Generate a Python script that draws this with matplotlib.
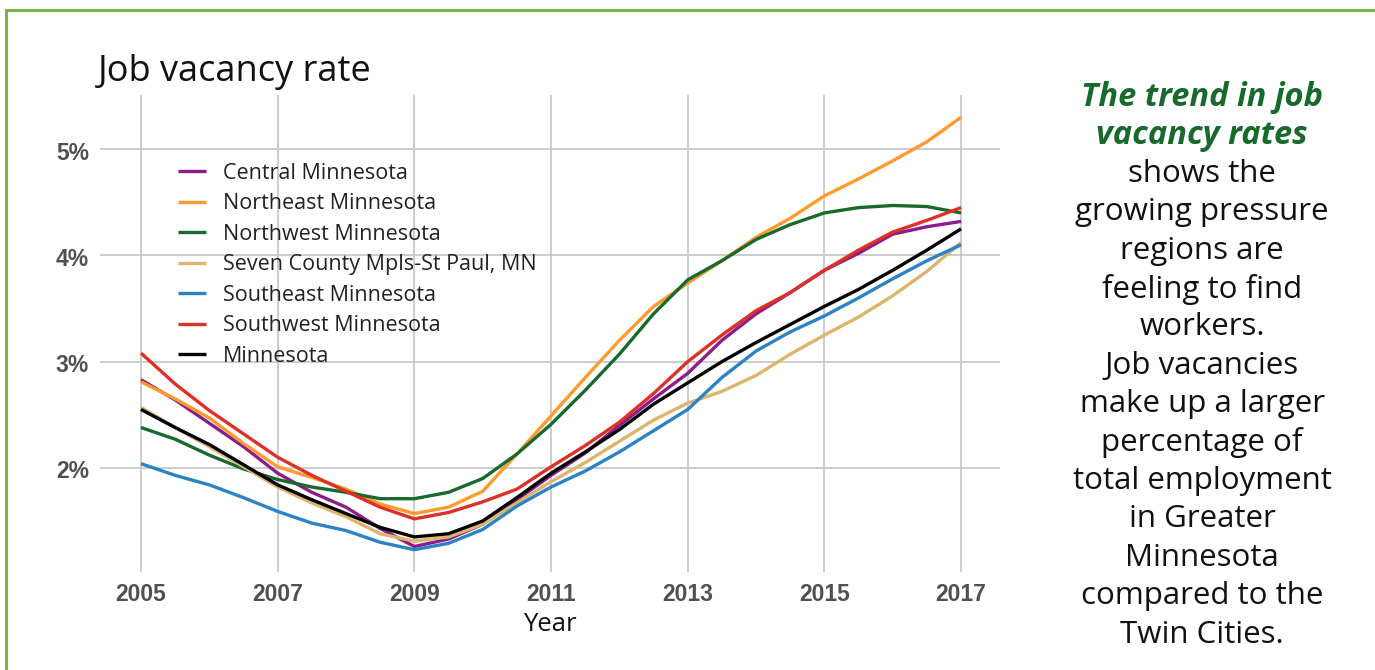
import matplotlib
matplotlib.use("Agg")
import matplotlib.pyplot as plt
from matplotlib import font_manager
from matplotlib.patches import Rectangle
from matplotlib.transforms import ScaledTranslation

# ---------------- data ----------------
years = [2005, 2005.5, 2006, 2006.5, 2007, 2007.5, 2008, 2008.5, 2009, 2009.5,
         2010, 2010.5, 2011, 2011.5, 2012, 2012.5, 2013, 2013.5, 2014, 2014.5,
         2015, 2015.5, 2016, 2016.5, 2017]

central = [2.83, 2.64, 2.42, 2.20, 1.95, 1.77, 1.63, 1.43, 1.26, 1.33,
           1.47, 1.70, 1.93, 2.14, 2.40, 2.65, 2.89, 3.20, 3.45, 3.65,
           3.86, 4.02, 4.20, 4.27, 4.32]
northeast = [2.81, 2.65, 2.47, 2.23, 2.01, 1.91, 1.80, 1.66, 1.57, 1.63,
             1.78, 2.13, 2.49, 2.85, 3.20, 3.52, 3.74, 3.95, 4.17, 4.35,
             4.56, 4.72, 4.89, 5.07, 5.30]
northwest = [2.38, 2.27, 2.12, 1.99, 1.89, 1.82, 1.77, 1.71, 1.71, 1.77,
             1.90, 2.13, 2.41, 2.73, 3.07, 3.45, 3.77, 3.95, 4.15, 4.29,
             4.40, 4.45, 4.47, 4.46, 4.40]
seven_county = [2.57, 2.38, 2.20, 2.01, 1.82, 1.67, 1.54, 1.38, 1.31, 1.35,
                1.47, 1.67, 1.87, 2.05, 2.25, 2.45, 2.61, 2.72, 2.87, 3.07,
                3.25, 3.42, 3.62, 3.85, 4.12]
southeast = [2.04, 1.93, 1.84, 1.72, 1.59, 1.48, 1.41, 1.30, 1.23, 1.29,
             1.42, 1.64, 1.82, 1.97, 2.15, 2.35, 2.55, 2.85, 3.10, 3.28,
             3.43, 3.60, 3.78, 3.95, 4.10]
southwest = [3.08, 2.79, 2.54, 2.32, 2.10, 1.93, 1.78, 1.63, 1.52, 1.58,
             1.68, 1.80, 2.01, 2.21, 2.43, 2.70, 3.00, 3.25, 3.48, 3.65,
             3.86, 4.05, 4.22, 4.33, 4.45]
minnesota = [2.55, 2.38, 2.22, 2.03, 1.84, 1.70, 1.57, 1.44, 1.35, 1.38,
             1.50, 1.72, 1.95, 2.15, 2.36, 2.60, 2.80, 3.00, 3.18, 3.35,
             3.52, 3.68, 3.86, 4.05, 4.25]

series_names = ["Central Minnesota", "Northeast Minnesota", "Northwest Minnesota",
                "Seven County Mpls-St Paul, MN", "Southeast Minnesota",
                "Southwest Minnesota", "Minnesota"]
series_values = [central, northeast, northwest, seven_county, southeast,
                 southwest, minnesota]
series_colors = ["#8b1c8b", "#ff9a2e", "#17692c", "#dcb46c", "#2b82c4",
                 "#df3027", "#000000"]

x_ticks = [2005, 2007, 2009, 2011, 2013, 2015, 2017]
y_ticks = [2, 3, 4, 5]
y_tick_labels = ["2%", "3%", "4%", "5%"]

title = "Job vacancy rate"
x_label = "Year"
side_head = ["The trend in job", "vacancy rates"]
side_body = ["shows the", "growing pressure", "regions are", "feeling to find",
             "workers.", "Job vacancies", "make up a larger", "percentage of",
             "total employment", "in Greater", "Minnesota", "compared to the",
             "Twin Cities."]

# ---------------- fonts ----------------
avail = {f.name for f in font_manager.fontManager.ttflist}
def pick(*names):
    for n in names:
        if n in avail:
            return n
    return "DejaVu Sans"

tickfont = pick("Liberation Sans", "Roboto", "DejaVu Sans")
body = pick("Open Sans", "Lato", "DejaVu Sans")

W, H = 1375, 670

# ---------------- figure ----------------
fig = plt.figure(figsize=(13.75, 6.7), dpi=100)
fig.patch.set_facecolor("white")

# green frame (left and top edges visible)
fig.patches.append(Rectangle((6 / W, -0.2), 1.2, 1 - 10 / H + 0.2,
                             transform=fig.transFigure, fill=False,
                             edgecolor="#78b548", linewidth=2.2))

ax = fig.add_axes([100 / W, 1 - 572 / H, 900 / W, (572 - 95) / H])
for name, vals, col in zip(series_names, series_values, series_colors):
    ax.plot(years, vals, color=col, linewidth=2.4, label=name,
            solid_capstyle="butt", zorder=3)

ax.set_xlim(2004.4, 2017.57)
ax.set_ylim(1.02, 5.51)
ax.set_xticks(x_ticks)
ax.set_xticklabels([str(t) for t in x_ticks])
ax.set_yticks(y_ticks)
ax.set_yticklabels(y_tick_labels)
ax.grid(True, color="#c8c8c8", linewidth=1.3)
ax.set_axisbelow(True)
for s in ax.spines.values():
    s.set_visible(False)
ax.tick_params(axis="x", length=0, pad=8)
ax.tick_params(axis="y", length=0, pad=8)
for lab in ax.get_xticklabels() + ax.get_yticklabels():
    lab.set_fontfamily(tickfont)
    lab.set_fontweight("bold")
    lab.set_fontsize(16.5)
    lab.set_color("#505050")
shift = ScaledTranslation(0, -4 / 100, fig.dpi_scale_trans)
for tk in ax.yaxis.get_major_ticks():
    tk.label1.set_va("center")
    tk.label1.set_transform(tk.label1.get_transform() + shift)

ax.set_xlabel(x_label, fontsize=18.5, family=body, color="#111111", labelpad=4)

leg = ax.legend(loc="upper left", bbox_to_anchor=(78 / 900, (572 - 163) / 477),
                frameon=False, borderaxespad=0, borderpad=0,
                handlelength=1.3, handletextpad=0.8, labelspacing=0.44,
                prop={"family": body, "size": 15.5})
for t in leg.get_texts():
    t.set_color("#222222")

fig.text(98 / W, 1 - 72 / H, title, fontsize=26, family=body,
         color="#111111", va="center", ha="left")

# side text
cx = 1202 / W
y0 = 97
step = 38.4
for i, line in enumerate(side_head):
    fig.text(cx, 1 - (y0 + i * step) / H, line, fontsize=23.5, family=body,
             fontweight="bold", style="italic", color="#17692c",
             ha="center", va="center")
for j, line in enumerate(side_body):
    k = j + len(side_head)
    fig.text(cx, 1 - (y0 + k * step) / H, line, fontsize=22.5, family=body,
             color="#111111", ha="center", va="center")

fig.savefig("out.png", dpi=100, facecolor="white")
